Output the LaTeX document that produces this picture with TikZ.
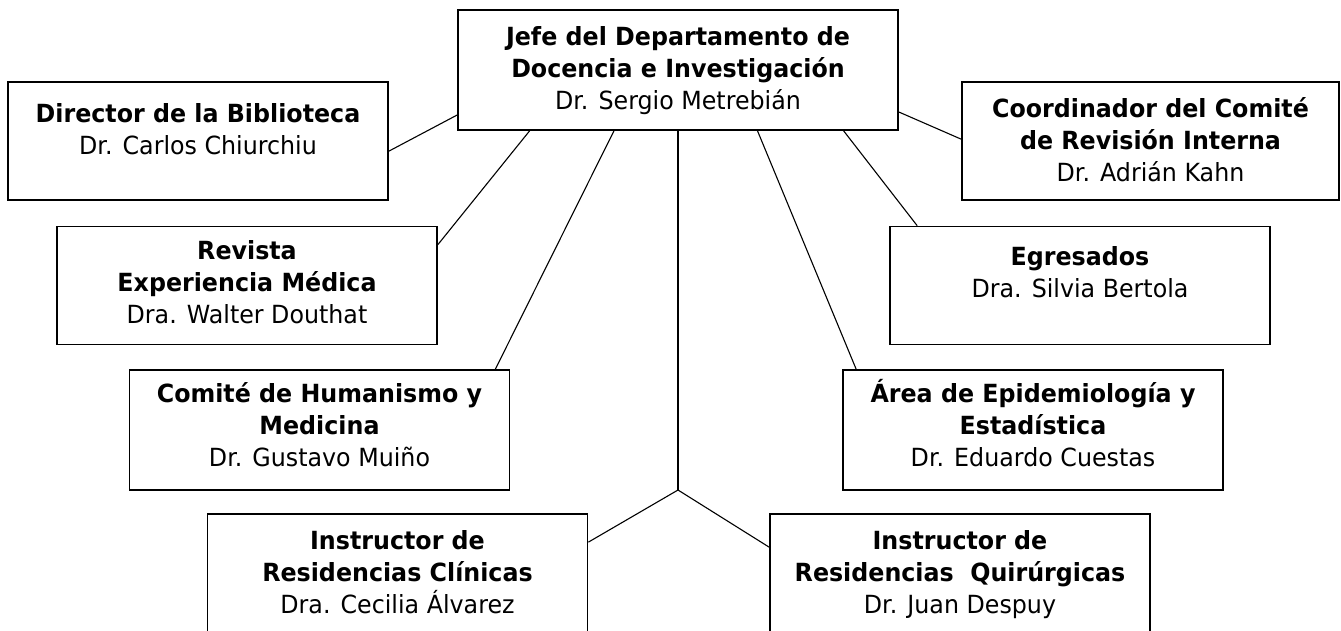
\documentclass[tikz,border=0pt]{standalone}
\usepackage{fontspec}
\setmainfont{DejaVu Sans}[FakeStretch=0.95]
\usetikzlibrary{positioning,calc}
\begin{document}
\begin{tikzpicture}[x=1pt,y=-1pt,
				box/.style={draw,line width=1.7pt,minimum width=380pt,minimum height=118pt,inner sep=0pt},
				txt/.style={align=center,font=\fontsize{25}{32}\selectfont,inner sep=0pt,anchor=base},
				link/.style={line width=1.1pt}]
\useasboundingbox (0,0) rectangle (1341,630);
\clip (0,0) rectangle (1341,630);
\node[box,minimum width=440pt,minimum height=120pt] (jefe) at (678,70) {};
\node[box] (bib) at (198,141) {};
\node[box,minimum width=377pt] (coord) at (1150.5,141) {};
\node[box] (rev) at (247,285.5) {};
\node[box] (egr) at (1080,285.5) {};
\node[box,minimum height=120pt] (com) at (319.5,430) {};
\node[box,minimum height=120pt] (area) at (1033,430) {};
\node[box,minimum height=120pt] (clin) at (397.5,574) {};
\node[box,minimum height=120pt] (quir) at (960,574) {};
\node[txt,below=100pt of jefe.north,anchor=base] (jefetxt) {\textbf{Jefe del Departamento de}\\\textbf{Docencia e Investigación}\\Dr. Sergio Metrebián};
\node[txt,below=73pt of bib.north,anchor=base] (bibtxt) {\textbf{Director de la Biblioteca}\\Dr. Carlos Chiurchiu};
\node[txt,below=100pt of coord.north,anchor=base] (coordtxt) {\textbf{Coordinador del Comité}\\\textbf{de Revisión Interna}\\Dr. Adrián Kahn};
\node[txt,below=98pt of rev.north,anchor=base] (revtxt) {\textbf{Revista}\\\textbf{Experiencia Médica}\\Dra. Walter Douthat};
\node[txt,below=72pt of egr.north,anchor=base] (egrtxt) {\textbf{Egresados}\\Dra. Silvia Bertola};
\node[txt,below=97pt of com.north,anchor=base] (comtxt) {\textbf{Comité de Humanismo y}\\\textbf{Medicina}\\Dr. Gustavo Muiño};
\node[txt,below=97pt of area.north,anchor=base] (areatxt) {\textbf{Área de Epidemiología y}\\\textbf{Estadística}\\Dr. Eduardo Cuestas};
\node[txt,below=100pt of clin.north,anchor=base] (clintxt) {\textbf{Instructor de}\\\textbf{Residencias Clínicas}\\Dra. Cecilia Álvarez};
\node[txt,below=100pt of quir.north,anchor=base] (quirtxt) {\textbf{Instructor de}\\\textbf{Residencias\ \ Quirúrgicas}\\Dr. Juan Despuy};
\coordinate (hub) at (678,490);
\draw[link] ($(jefe.west)+(0,45)$) -- ($(bib.north east)+(0,70)$);
\draw[link] ($(jefe.south west)!0.164!(jefe.south east)$) -- ($(rev.north east)+(0,19)$);
\draw[link] ($(jefe.south west)!0.355!(jefe.south east)$) -- ($(com.north east)+(-15,0)$);
\draw[link] (jefe.south) -- (hub);
\draw[link] (hub) -- ($(clin.north east)+(0,29)$);
\draw[link] (hub) -- ($(quir.north west)+(0,34)$);
\draw[link] ($(jefe.south west)!0.68!(jefe.south east)$) -- ($(area.north west)+(14,0)$);
\draw[link] ($(jefe.south west)!0.875!(jefe.south east)$) -- ($(egr.north west)+(28,0)$);
\draw[link] ($(jefe.east)+(0,42)$) -- ($(coord.north west)+(0,58)$);
\end{tikzpicture}
\end{document}
